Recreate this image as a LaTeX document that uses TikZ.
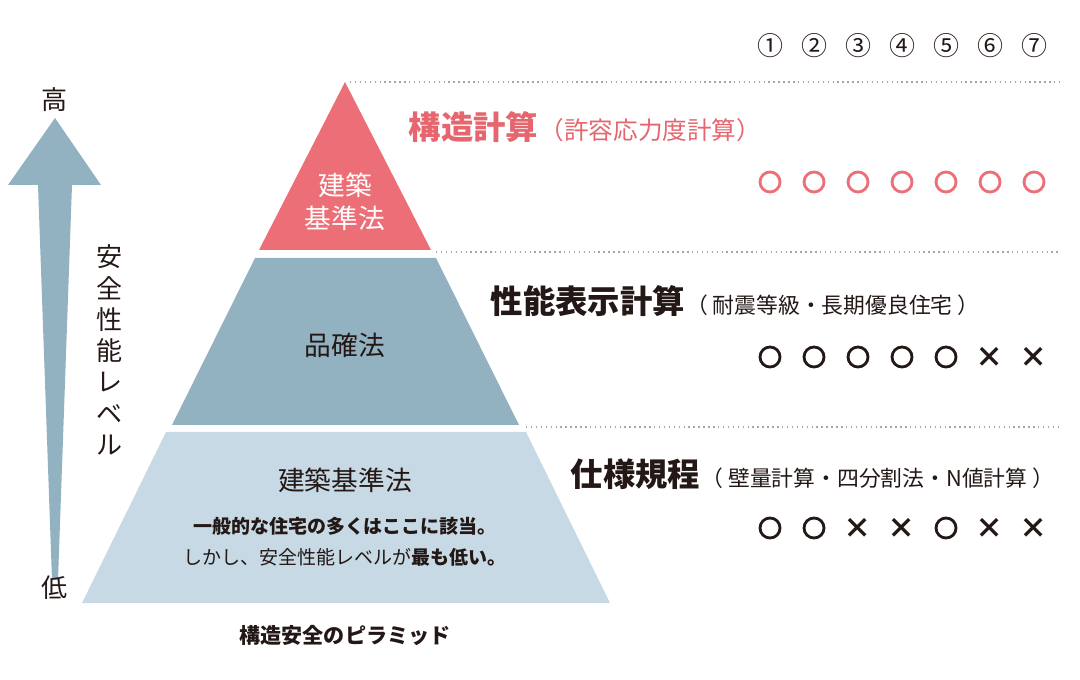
\documentclass[tikz,border=0pt]{standalone}
\usepackage{fontspec}
\setmainfont{Noto Sans CJK JP}
\usetikzlibrary{positioning}
\definecolor{topred}{HTML}{EC6F77}
\definecolor{midblue}{HTML}{92B1C1}
\definecolor{lowblue}{HTML}{C7D9E4}
\definecolor{redtext}{HTML}{E5666E}
\definecolor{darktext}{HTML}{231815}
\begin{document}
\begin{tikzpicture}[x=0.01cm,y=-0.01cm,
    title/.style={anchor=base west,inner sep=0pt,font=\fontsize{9.2}{10}\selectfont\bfseries,text=darktext},
    sub/.style={anchor=base west,inner sep=0pt,font=\fontsize{6.2}{7}\selectfont,text=darktext},
    layer text/.style={font=\fontsize{7.6}{9.5}\selectfont,text=darktext,align=center},
    ok/.style={circle,draw=darktext,line width=0.8pt,minimum size=0.2cm,inner sep=0pt},
    ng/.style={font=\fontsize{8}{9}\selectfont\bfseries,text=darktext,inner sep=0pt},
    guide/.style={densely dotted,draw=gray!70,line width=0.4pt}]
  \useasboundingbox (0,0) rectangle (1080,680);
  % pyramid
  \fill[topred] (345,82) -- (431,250) -- (259,250) -- cycle;
  \fill[midblue] (255,258) -- (436,258) -- (519,425) -- (172,425) -- cycle;
  \fill[lowblue] (166,432) -- (526,432) -- (610,603) -- (82,603) -- cycle;
  \node[layer text,text=white] (top) at (345,202) {建築\\基準法};
  \node[layer text] (mid) at (345,345) {品確法};
  \node[layer text] (low) at (345,480) {建築基準法};
  \node[font=\fontsize{5.4}{6}\selectfont\bfseries,text=darktext] (lowa) at (345,526) {一般的な住宅の多くはここに該当。};
  \node[font=\fontsize{5.4}{6}\selectfont,text=darktext] (lowb) at (345,557) {しかし、安全性能レベルが\textbf{最も低い。}};
  \node[font=\fontsize{6}{7}\selectfont\bfseries,text=darktext] (caption) at (345,636) {構造安全のピラミッド};
  % level arrow
  \fill[midblue] (8,185) -- (55,118) -- (101,185) -- (72,185) -- (58,580) -- (52,580) -- (38,185) -- cycle;
  \node[font=\fontsize{7.4}{8}\selectfont,text=darktext] (high) at (55,100) {高};
  \node[font=\fontsize{7.4}{8}\selectfont,text=darktext] (lowlv) at (55,588) {低};
  \node[font=\fontsize{7.4}{8.9}\selectfont,text=darktext,align=center] (level) at (110,350) {安\\全\\性\\能\\レ\\ベ\\ル};
  % guides
  \coordinate (g1) at (350,82);  \coordinate (g1e) at (1060,82);
  \coordinate (g2) at (436,252); \coordinate (g2e) at (1060,252);
  \coordinate (g3) at (526,427); \coordinate (g3e) at (1060,427);
  \draw[guide] (g1) -- (g1e);
  \draw[guide] (g2) -- (g2e);
  \draw[guide] (g3) -- (g3e);
  % titles
  \node[title,text=redtext] (t1) at (408,140) {構造計算};
  \node[sub,text=redtext,font=\fontsize{7}{8}\selectfont] (t1s) at (t1.base east) {（許容応力度計算）};
  \node[title] (t2) at (490,314) {性能表示計算};
  \node[sub] (t2s) at (t2.base east) {（ 耐震等級・長期優良住宅 ）};
  \node[title] (t3) at (570,487) {仕様規程};
  \node[sub] (t3s) at (t3.base east) {（ 壁量計算・四分割法・N値計算 ）};
  % columns
  \foreach \n/\x in {①/770,②/814,③/858,④/902,⑤/946,⑥/990,⑦/1034}
    \node[font=\fontsize{7.4}{8}\selectfont,text=darktext] (num\x) at (\x,46) {\n};
  \foreach \x in {770,814,858,902,946,990,1034}
    \node[ok,draw=topred] (a\x) at (\x,182) {};
  \foreach \x in {770,814,858,902,946}
    \node[ok] (b\x) at (\x,357) {};
  \foreach \x in {990,1034}
    \node[ng] (b\x) at (\x,357) {×};
  \foreach \x in {770,814,946}
    \node[ok] (c\x) at (\x,528) {};
  \foreach \x in {858,902,990,1034}
    \node[ng] (c\x) at (\x,528) {×};
\end{tikzpicture}
\end{document}
